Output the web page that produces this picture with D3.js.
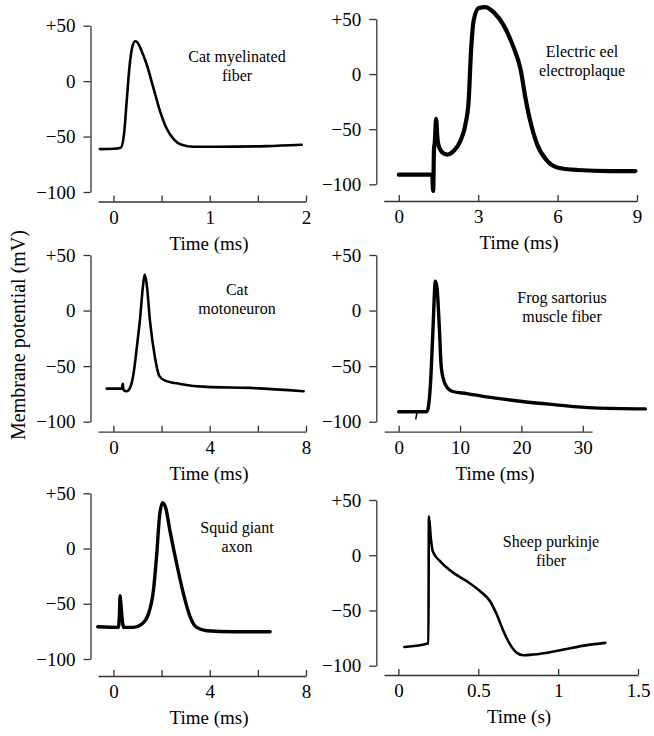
<!DOCTYPE html>
<html>
<head>
<meta charset="utf-8">
<script src="https://cdn.jsdelivr.net/npm/d3@7"></script>
<style>
  body { margin: 0; background: #fff; }
  svg { display: block; }
</style>
</head>
<body>
<div id="chart"></div>
<script>
// values: time (ms or s) and membrane potential (mV)
var catFiberT = [-0.14, 0.0, 0.076, 0.11, 0.138, 0.166, 0.194, 0.225, 0.249, 0.294, 0.346, 0.415, 0.484, 0.554, 0.623, 0.709, 0.83, 1.07, 1.59, 1.955];
var catFiberV = [-61.3, -61, -60, -48, -18, 12, 30, 36, 35, 27, 15, -6, -27, -43, -52, -57.4, -59.2, -59.2, -58.6, -57.4];

var eelT = [0, 0.6, 1.26, 1.3, 1.33, 1.36, 1.41, 1.45, 1.49, 1.64, 1.83, 2.08, 2.33, 2.52, 2.64, 2.73, 2.83, 3.02, 3.27, 3.59, 3.97, 4.34, 4.6, 4.78, 4.97, 5.22, 5.6, 5.98, 6.74, 8.0, 8.94];
var eelV = [-91.3, -91.3, -91.3, -106, -68, -62, -40.5, -55, -63.5, -71, -73, -69.6, -60.5, -45.4, -24, 21, 48.7, 60, 60.8, 56, 44, 24, 4.5, -21, -43, -63.5, -78.6, -84.7, -87, -88, -88];

var motoT = [-0.28, 0.35, 0.39, 0.42, 0.55, 0.69, 0.83, 0.97, 1.11, 1.22, 1.30, 1.385, 1.52, 1.73, 1.91, 2.15, 2.77, 3.88, 5.68, 7.9];
var motoV = [-70.2, -70.2, -66, -71.4, -72.6, -69.6, -57.6, -33.6, -6.6, 20.4, 32.4, 23.4, -9.6, -42.6, -59, -63, -66, -68.7, -69.6, -72.6];

var frogT = [0, 4.6, 4.9, 5.27, 5.6, 5.98, 6.25, 6.63, 6.95, 7.6, 8.7, 11.1, 15.5, 19.8, 25.3, 31.8, 40.2];
var frogV = [-91, -91, -84.6, -57.6, -15.6, 26.4, 20.4, -15.6, -51.6, -66.6, -72.6, -74.7, -78.6, -81.6, -84.6, -87.6, -88.5];
var frogStimT = [2.8, 3.0];
var frogStimV = [-97.5, -91];

var squidT = [-0.65, 0.21, 0.25, 0.28, 0.31, 0.39, 0.44, 0.83, 1.18, 1.45, 1.66, 1.8, 1.91, 2.04, 2.17, 2.35, 2.63, 2.91, 3.19, 3.46, 3.88, 4.99, 6.51];
var squidV = [-70.8, -71.4, -60, -42.8, -50, -68.4, -71.4, -71.4, -68.4, -59.4, -38.3, -5.1, 28, 41.6, 37, 16, -14, -41, -62, -71.4, -74.4, -75.3, -75.3];

var sheepT = [0.0376, 0.188, 0.191, 0.203, 0.215, 0.261, 0.345, 0.428, 0.512, 0.574, 0.616, 0.658, 0.7, 0.742, 0.783, 0.846, 1.013, 1.18, 1.295];
var sheepV = [-83, -79.6, 35.3, 15.7, 3.6, -5.4, -16, -23.5, -32.6, -41.6, -53.7, -68.8, -80.9, -88.4, -90.5, -89.9, -86, -81.4, -79.3];

var yTicks = [-100, -50, 0, 50];
var names = [["Cat myelinated", "fiber"], ["Electric eel", "electroplaque"], ["Cat", "motoneuron"],
             ["Frog sartorius", "muscle fiber"], ["Squid giant", "axon"], ["Sheep purkinje", "fiber"]];
var xTitles = ["Time (ms)", "Time (ms)", "Time (ms)", "Time (ms)", "Time (ms)", "Time (s)"];
var xTickVals = [[0, 0.5, 1, 1.5, 2], [0, 3, 6, 9], [0, 2, 4, 6, 8], [0, 10, 20, 30], [0, 2, 4, 6, 8], [0, 0.5, 1, 1.5]];
var xTickLabels = [["0", "", "1", "", "2"], ["0", "3", "6", "9"], ["0", "", "4", "", "8"],
                   ["0", "10", "20", "30"], ["0", "", "4", "", "8"], ["0", "0.5", "1", "1.5"]];

var serif = "'Liberation Serif', 'Times New Roman', serif";

// layout of the six panels (pixels)
var panels = [
  {T: [catFiberT], V: [catFiberV], xd: [-0.16, 2], xr: [98, 306], yTop: 25.7, yBot: 192, ax: 90.5, xy: 201.5, sw: 2.6, lab: [237, 62], tc: 209},
  {T: [eelT], V: [eelV], xd: [-0.57, 9], xr: [383.7, 637], yTop: 19, yBot: 184.3, ax: 376.3, xy: 201, sw: 4.2, lab: [582, 57], tc: 519},
  {T: [motoT], V: [motoV], xd: [-0.64, 8], xr: [98, 306], yTop: 255, yBot: 421.7, ax: 90.5, xy: 431.7, sw: 2.6, lab: [237, 295], tc: 209},
  {T: [frogT, frogStimT], V: [frogV, frogStimV], xd: [-2.34, 31.5], xr: [384.3, 592], yTop: 255, yBot: 421.7, ax: 376.3, xy: 431.7, sw: 3.4, lab: [562, 303], tc: 495},
  {T: [squidT], V: [squidV], xd: [-0.64, 8], xr: [98, 306], yTop: 493.3, yBot: 659, ax: 90.5, xy: 676, sw: 3.4, lab: [237, 533], tc: 209},
  {T: [sheepT], V: [sheepV], xd: [-0.09, 1.5], xr: [384, 638], yTop: 500, yBot: 665.7, ax: 376.3, xy: 675, sw: 2.6, lab: [551, 547], tc: 519}
];

var svg = d3.select("#chart").append("svg")
  .attr("width", 654)
  .attr("height", 736);

function fmtY(d) {
  if (d > 0) return "+" + d;
  if (d < 0) return "\u2212" + Math.abs(d);
  return "0";
}

panels.forEach(function(p, i) {
  var x = d3.scaleLinear().domain(p.xd).range(p.xr);
  var y = d3.scaleLinear().domain([-100, 50]).range([p.yBot, p.yTop]);

  // y axis
  var gy = svg.append("g")
    .attr("transform", `translate(${p.ax},0)`)
    .call(d3.axisLeft(y).tickValues(yTicks).tickFormat(fmtY).tickSizeInner(7).tickSizeOuter(0).tickPadding(8));

  // x axis, ticks pointing up
  var gx = svg.append("g")
    .attr("transform", `translate(0,${p.xy})`)
    .call(d3.axisBottom(x).tickValues(xTickVals[i])
      .tickFormat(function(d, j) { return xTickLabels[i][j]; })
      .tickSizeInner(-6).tickSizeOuter(0).tickPadding(9));

  [gx, gy].forEach(function(g) {
    g.attr("font-family", serif).attr("font-size", 19);
    g.selectAll("text").attr("fill", "#000");
    g.select(".domain").attr("stroke", "#333").attr("stroke-width", 1.3);
    g.selectAll(".tick line").attr("stroke", "#333").attr("stroke-width", 1.3);
  });

  svg.append("text")
    .attr("x", p.tc)
    .attr("y", p.xy + 48)
    .attr("text-anchor", "middle")
    .attr("font-family", serif)
    .attr("font-size", 19)
    .text(xTitles[i]);

  // traces
  p.T.forEach(function(tt, k) {
    var pts = tt.map((t, j) => [t, p.V[k][j]]);
    var line = d3.line()
      .x(d => x(d[0]))
      .y(d => y(d[1]))
      .curve(k == 0 ? d3.curveMonotoneX : d3.curveLinear);
    svg.append("path")
      .datum(pts)
      .attr("d", line)
      .attr("fill", "none")
      .attr("stroke", "#000")
      .attr("stroke-width", k == 0 ? p.sw : 1.5)
      .attr("stroke-linejoin", "round")
      .attr("stroke-linecap", "round");
  });

  // name of the preparation
  svg.append("text")
    .attr("text-anchor", "middle")
    .attr("font-family", serif)
    .attr("font-size", 16)
    .selectAll("tspan")
    .data(names[i])
    .join("tspan")
      .attr("x", p.lab[0])
      .attr("y", (d, j) => p.lab[1] + j * 19)
      .text(d => d);
});

svg.append("text")
  .attr("transform", "translate(25,335) rotate(-90)")
  .attr("text-anchor", "middle")
  .attr("font-family", serif)
  .attr("font-size", 20)
  .text("Membrane potential (mV)");
</script>
</body>
</html>
